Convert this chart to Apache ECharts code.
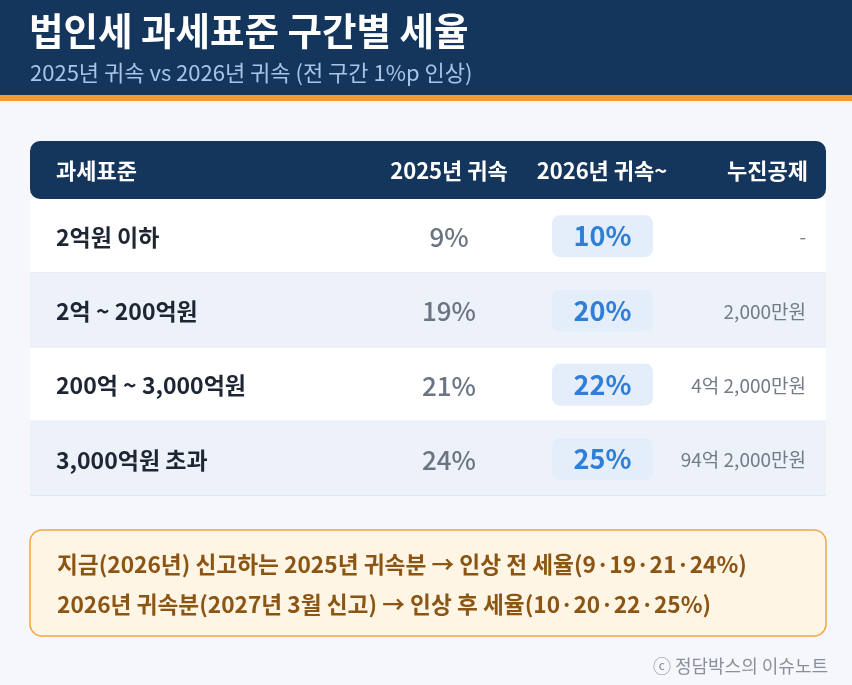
<!DOCTYPE html>
<html><head><meta charset="utf-8">
<script src="https://cdn.jsdelivr.net/npm/echarts@6/dist/echarts.min.js"></script>
<style>html,body{margin:0;padding:0;background:#f5f7fb}#c{width:852px;height:685px}</style>
</head><body><div id="c"></div>
<script>
const title = '법인세 과세표준 구간별 세율';
const subtitle = '2025년 귀속 vs 2026년 귀속 (전 구간 1%p 인상)';
const headers = ['과세표준', '2025년 귀속', '2026년 귀속~', '누진공제'];
const categories = ['2억원 이하', '2억 ~ 200억원', '200억 ~ 3,000억원', '3,000억원 초과'];
const rate2025 = [9, 19, 21, 24];
const rate2026 = [10, 20, 22, 25];
const deduction = ['-', '2,000만원', '4억 2,000만원', '94억 2,000만원'];
const notes = [
  '지금(2026년) 신고하는 2025년 귀속분 → 인상 전 세율(9·19·21·24%)',
  '2026년 귀속분(2027년 3월 신고) → 인상 후 세율(10·20·22·25%)'
];
const footer = 'ⓒ 정담박스의 이슈노트';

const FONT = '"Noto Sans CJK KR", "Noto Sans", sans-serif';
const chart = echarts.init(document.getElementById('c'), null, {renderer: 'canvas'});

const rows = categories.map((c, i) => [0, i, rate2025[i], rate2026[i]]);

function renderRow(params, api) {
  const i = api.value(1);
  const cs = params.coordSys;
  const pt = api.coord([0, i]);
  const h = api.size([0, 1])[1];
  const cy = pt[1];
  const x0 = cs.x;
  const top = cy - h / 2;
  return {
    type: 'group',
    children: [
      {type: 'rect', shape: {x: x0, y: top, width: cs.width, height: h},
       style: {fill: i % 2 === 1 ? '#edf2fa' : '#ffffff'}},
      {type: 'line', shape: {x1: x0, y1: top + h - 0.5, x2: x0 + cs.width, y2: top + h - 0.5},
       style: {stroke: '#e1e7ef', lineWidth: 1}},
      {type: 'text', x: x0 + 26, y: cy + 1,
       style: {text: categories[i], fill: '#1e2533', font: 'bold 23px ' + FONT,
               textAlign: 'left', textVerticalAlign: 'middle'}},
      {type: 'text', x: x0 + 419, y: cy + 1,
       style: {text: api.value(2) + '%', fill: '#6b7482', font: '500 26px ' + FONT,
               textAlign: 'center', textVerticalAlign: 'middle'}},
      {type: 'rect', shape: {x: x0 + 522, y: cy - 21, width: 101, height: 42, r: 8},
       style: {fill: '#e4edfa'}},
      {type: 'text', x: x0 + 572.5, y: cy,
       style: {text: api.value(3) + '%', fill: '#2f7ed8', font: 'bold 27px ' + FONT,
               textAlign: 'center', textVerticalAlign: 'middle'}},
      {type: 'text', x: x0 + 776, y: cy + 1,
       style: {text: deduction[i], fill: '#737b88', font: '19px ' + FONT,
               textAlign: 'right', textVerticalAlign: 'middle'}}
    ]
  };
}

const option = {
  backgroundColor: '#f5f7fb',
  animation: false,
  grid: {left: 30, right: 26, top: 199, height: 297, containLabel: false},
  xAxis: {type: 'value', min: 0, max: 1, show: false},
  yAxis: {type: 'category', data: categories, inverse: true, show: false},
  graphic: [
    {type: 'rect', left: 0, top: 0, shape: {width: 852, height: 96}, style: {fill: '#14365d'}, z: 1},
    {type: 'rect', left: 0, top: 95, shape: {width: 852, height: 6}, style: {fill: '#f39b33'}, z: 1},
    {type: 'text', x: 29, y: 31, z: 2,
     style: {text: title, fill: '#ffffff', font: 'bold 37.5px ' + FONT, textVerticalAlign: 'middle'}},
    {type: 'text', x: 30, y: 73, z: 2,
     style: {text: subtitle, fill: '#a8c4e6', font: '22px ' + FONT, textVerticalAlign: 'middle'}},
    {type: 'rect', x: 30, y: 141, z: 2, shape: {width: 796, height: 58, r: 10}, style: {fill: '#14365d'}},
    {type: 'text', x: 56, y: 171, z: 3,
     style: {text: headers[0], fill: '#fff', font: 'bold 22px ' + FONT, textAlign: 'left', textVerticalAlign: 'middle'}},
    {type: 'text', x: 449, y: 171, z: 3,
     style: {text: headers[1], fill: '#fff', font: 'bold 22px ' + FONT, textAlign: 'center', textVerticalAlign: 'middle'}},
    {type: 'text', x: 602, y: 171, z: 3,
     style: {text: headers[2], fill: '#fff', font: 'bold 22px ' + FONT, textAlign: 'center', textVerticalAlign: 'middle'}},
    {type: 'text', x: 808, y: 171, z: 3,
     style: {text: headers[3], fill: '#fff', font: 'bold 22px ' + FONT, textAlign: 'right', textVerticalAlign: 'middle'}},
    {type: 'rect', x: 30, y: 530, z: 2, shape: {width: 796, height: 106, r: 12},
     style: {fill: '#fff5e5', stroke: '#f2a543', lineWidth: 1.5}},
    {type: 'text', x: 57, y: 564, z: 3,
     style: {text: notes[0], fill: '#8b5514', font: 'bold 22.7px ' + FONT, textVerticalAlign: 'middle'}},
    {type: 'text', x: 57, y: 604, z: 3,
     style: {text: notes[1], fill: '#8b5514', font: 'bold 22.7px ' + FONT, textVerticalAlign: 'middle'}},
    {type: 'text', x: 828, y: 666, z: 3,
     style: {text: footer, fill: '#8a909a', font: '18px ' + FONT, textAlign: 'right', textVerticalAlign: 'middle'}}
  ],
  series: [{
    type: 'custom',
    renderItem: renderRow,
    data: rows,
    encode: {x: 0, y: 1},
    silent: true,
    clip: false
  }]
};
chart.setOption(option);
</script>
</body></html>
